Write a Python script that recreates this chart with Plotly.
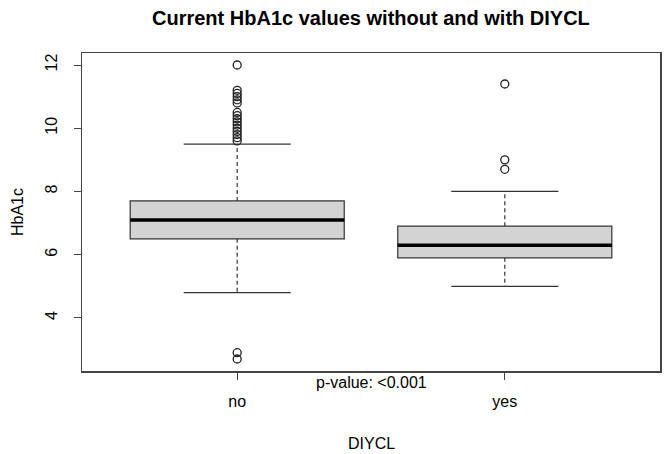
import plotly.graph_objects as go

# ---- data ----
groups = ["no", "yes"]
positions = [1, 2]
q1 = [6.5, 5.9]
median = [7.1, 6.3]
q3 = [7.7, 6.9]
lower_whisker = [4.8, 5.0]
upper_whisker = [9.5, 8.0]
outliers_no = [12.0, 11.2, 11.1, 11.0, 10.9, 10.8, 10.5, 10.4, 10.3, 10.2,
               10.1, 10.0, 9.9, 9.8, 9.7, 9.6, 2.9, 2.7]
outliers_yes = [11.4, 9.0, 8.7]
y_ticks = [4, 6, 8, 10, 12]

FONT = "Liberation Sans, Arial, sans-serif"
LINE = "#333333"
box_width = 0.8
cap_half = box_width / 4

fig = go.Figure()

# boxes (no whiskers; whiskers drawn dashed separately)
for i, g in enumerate(groups):
    fig.add_trace(go.Box(
        x=[positions[i]], q1=[q1[i]], median=[median[i]], q3=[q3[i]],
        lowerfence=[q1[i]], upperfence=[q3[i]],
        width=box_width, whiskerwidth=0,
        fillcolor="#D3D3D3", line=dict(color=LINE, width=1.2),
        boxpoints=False, showlegend=False, hoverinfo="skip"))

# dashed whiskers
wx, wy = [], []
for i in range(len(groups)):
    wx += [positions[i], positions[i], None, positions[i], positions[i], None]
    wy += [q3[i], upper_whisker[i], None, q1[i], lower_whisker[i], None]
fig.add_trace(go.Scatter(x=wx, y=wy, mode="lines",
                         line=dict(color=LINE, width=1.2, dash="4px,3px"),
                         showlegend=False, hoverinfo="skip"))

# caps
cx, cy = [], []
for i in range(len(groups)):
    for v in (upper_whisker[i], lower_whisker[i]):
        cx += [positions[i] - cap_half, positions[i] + cap_half, None]
        cy += [v, v, None]
fig.add_trace(go.Scatter(x=cx, y=cy, mode="lines",
                         line=dict(color=LINE, width=1.2),
                         showlegend=False, hoverinfo="skip"))

# medians (thick)
mx, my = [], []
for i in range(len(groups)):
    mx += [positions[i] - box_width / 2, positions[i] + box_width / 2, None]
    my += [median[i], median[i], None]
fig.add_trace(go.Scatter(x=mx, y=my, mode="lines",
                         line=dict(color="black", width=3.5),
                         showlegend=False, hoverinfo="skip"))

# outliers
for pos, outs in zip(positions, [outliers_no, outliers_yes]):
    fig.add_trace(go.Scatter(
        x=[pos] * len(outs), y=outs, mode="markers",
        marker=dict(symbol="circle-open", size=8, color="#222",
                    line=dict(width=1.3)),
        showlegend=False, hoverinfo="skip"))

fig.update_layout(
    width=666, height=454,
    margin=dict(l=82, r=6, t=53, b=83),
    paper_bgcolor="white", plot_bgcolor="white",
    font=dict(family=FONT, size=16, color="black"),
    xaxis=dict(range=[0.42, 2.58], tickvals=positions, ticktext=groups,
               automargin=False,
               showgrid=False, zeroline=False, showline=True, mirror=True,
               linecolor="#444", linewidth=1.5, ticks="outside", ticklen=7,
               tickcolor="#444", tickfont=dict(size=16),
               ticklabelstandoff=8),
    yaxis=dict(range=[2.32, 12.38], tickvals=y_ticks, automargin=False,
               showgrid=False, zeroline=False, showline=True, mirror=True,
               linecolor="#444", linewidth=1.5, ticks="outside", ticklen=7,
               tickcolor="#444", tickangle=-90, tickfont=dict(size=16),
               ticklabelstandoff=10),
    annotations=[
        dict(text="<b>Current HbA1c values without and with DIYCL</b>",
             xref="paper", yref="paper", x=0.5, y=1, yanchor="middle",
             yshift=35, showarrow=False, font=dict(size=20)),
        dict(text="p-value: <0.001", xref="paper", yref="paper", x=0.5, y=0,
             yanchor="middle", yshift=-11, showarrow=False, font=dict(size=16)),
        dict(text="DIYCL", xref="paper", yref="paper", x=0.5, y=0,
             yanchor="middle", yshift=-72, showarrow=False, font=dict(size=16)),
        dict(text="HbA1c", xref="paper", yref="paper", x=0, y=0.5,
             xanchor="center", xshift=-65, textangle=-90, showarrow=False,
             font=dict(size=16)),
    ],
)

fig.write_html("out.html",
               config={"displayModeBar": False, "staticPlot": True},
               post_script="document.body.style.margin='0';"
                           "document.body.style.overflow='hidden';")
